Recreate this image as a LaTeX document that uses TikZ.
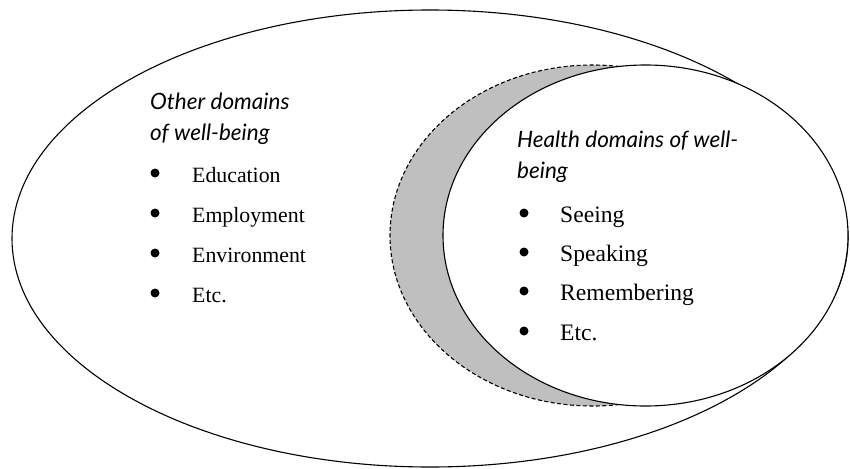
\documentclass[tikz,border=0pt]{standalone}
\usepackage{fontspec}
\setmainfont{Liberation Serif}
\newfontfamily\headfont{Lato}
\tikzset{
  outline/.style={draw=black, line width=1.1pt},
  shade/.style={draw=black, line width=1.1pt, dash pattern=on 4pt off 2.5pt, fill=black!25},
  headtxt/.style={anchor=base west, inner sep=0pt, font=\headfont\itshape\fontsize{22.5}{26}\selectfont},
  itemL/.style={anchor=base west, inner sep=0pt, font=\fontsize{21.8}{26}\selectfont},
  itemR/.style={anchor=base west, inner sep=0pt, font=\fontsize{23.6}{28}\selectfont},
  dot/.style={circle, fill=black, inner sep=0pt, minimum size=9pt}
}
\begin{document}
\begin{tikzpicture}[x=1pt,y=-1pt]
\useasboundingbox (0,0) rectangle (850,468);
\fill[white] (0,0) rectangle (850,468);
% ellipses
\draw[outline, fill=white] (430,238.5) ellipse [x radius=418pt, y radius=228.5pt];
\draw[shade] (592.5,235.5) ellipse [x radius=202.5pt, y radius=170.5pt];
\draw[outline, fill=white] (645.5,235.5) ellipse [x radius=202.5pt, y radius=170.5pt];
% left text
\node[headtxt] (oth1) at (150,110) {Other domains};
\node[headtxt] (oth2) at (150,140) {of well-being};
\node[itemL] (l1) at (192,182) {Education};
\node[itemL] (l2) at (192,222) {Employment};
\node[itemL] (l3) at (192,262) {Environment};
\node[itemL] (l4) at (192,302) {Etc.};
\node[dot] (bl1) at (155,173) {};
\node[dot] (bl2) at (155,213) {};
\node[dot] (bl3) at (155,253) {};
\node[dot] (bl4) at (155,293) {};
% right text
\node[headtxt] (hl1) at (517,147) {Health domains of well-};
\node[headtxt] (hl2) at (517,178) {being};
\node[itemR] (r1) at (560,222) {Seeing};
\node[itemR] (r2) at (560,261) {Speaking};
\node[itemR] (r3) at (560,300) {Remembering};
\node[itemR] (r4) at (560,340) {Etc.};
\node[dot] (br1) at (524,213) {};
\node[dot] (br2) at (524,252) {};
\node[dot] (br3) at (524,291) {};
\node[dot] (br4) at (524,331) {};
\end{tikzpicture}
\end{document}
